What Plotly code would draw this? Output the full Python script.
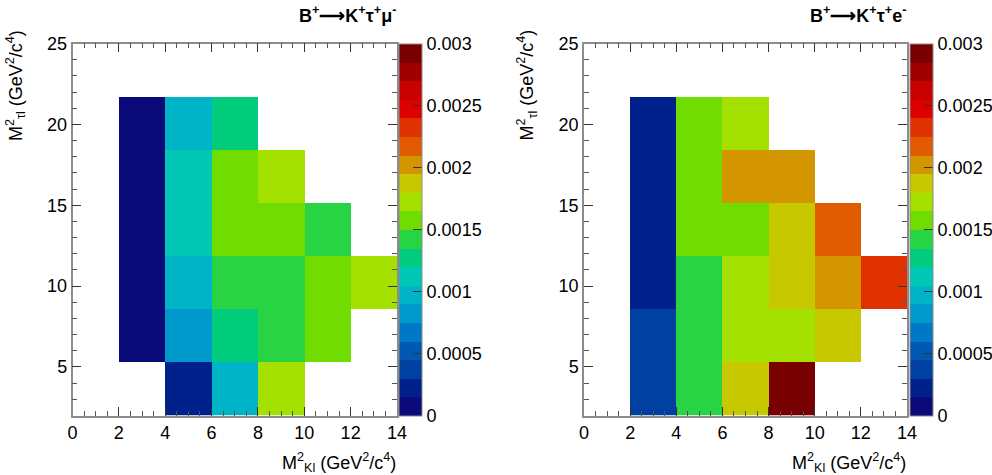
import plotly.graph_objects as go

W, H = 992, 475

# ---- data ----
x_edges = [0, 2, 4, 6, 8, 10, 12, 14]
y_edges = [2.0, 5.286, 8.571, 11.857, 15.143, 18.429, 21.714, 25.0]

# rows: y bins bottom->top, cols: x bins left->right
z_mu = [
    [None, None, 0.00022, 0.00097, 0.00172, None, None],
    [None, 0.00008, 0.00082, 0.00127, 0.00142, 0.00157, None],
    [None, 0.00008, 0.00097, 0.00142, 0.00142, 0.00157, 0.00172],
    [None, 0.00008, 0.00112, 0.00157, 0.00157, 0.00142, None],
    [None, 0.00008, 0.00112, 0.00157, 0.00172, None, None],
    [None, 0.00008, 0.00097, 0.00127, None, None, None],
    [None, None, None, None, None, None, None],
]
z_e = [
    [None, 0.00038, 0.00142, 0.00187, 0.00292, None, None],
    [None, 0.00038, 0.00142, 0.00172, 0.00172, 0.00187, None],
    [None, 0.00022, 0.00142, 0.00172, 0.00187, 0.00202, 0.00232],
    [None, 0.00022, 0.00157, 0.00157, 0.00187, 0.00217, None],
    [None, 0.00022, 0.00157, 0.00202, 0.00202, None, None],
    [None, 0.00022, 0.00157, 0.00172, None, None, None],
    [None, None, None, None, None, None, None],
]
cb_tickvals = [0, 0.0005, 0.001, 0.0015, 0.002, 0.0025, 0.003]
cb_ticktext = ["0", "0.0005", "0.001", "0.0015", "0.002", "0.0025", "0.003"]
x_ticks = [0, 2, 4, 6, 8, 10, 12, 14]
y_ticks = [5, 10, 15, 20, 25]

palette = ["#0a0a78", "#00208c", "#0040a0", "#0058b0", "#0078c8", "#0099cc",
           "#00b4c8", "#00c8b4", "#00cc7c", "#28d444", "#70dc00", "#a4e000",
           "#c8c800", "#d49600", "#e05a00", "#e03200", "#dc0000", "#c80000",
           "#a00000", "#780000"]
n = len(palette)
cscale = []
for i, c in enumerate(palette):
    cscale.append([i / n, c])
    cscale.append([(i + 1) / n, c])

FONT = "Liberation Sans, Arial, sans-serif"
FS = 18

def px_x(p):
    return p / W

def px_y(p):
    return 1 - p / H

top, bot = 43.5, 415.5
plots = [
    dict(z=z_mu, x0=72.5, x1=397, cbx=399,
         title="<b>B<sup>+</sup>⟶K<sup>+</sup>τ<sup>+</sup>μ<sup>-</sup></b>"),
    dict(z=z_e, x0=584, x1=907, cbx=910,
         title="<b>B<sup>+</sup>⟶K<sup>+</sup>τ<sup>+</sup>e<sup>-</sup></b>"),
]

fig = go.Figure()
annotations = []
for k, p in enumerate(plots):
    xa = "x" if k == 0 else "x2"
    ya = "y" if k == 0 else "y2"
    fig.add_trace(go.Heatmap(
        z=p["z"], x=x_edges, y=y_edges, xaxis=xa, yaxis=ya,
        colorscale=cscale, zmin=0, zmax=0.003, zsmooth=False,
        hoverongaps=False,
        colorbar=dict(
            x=px_x(p["cbx"]), xanchor="left", xref="paper",
            y=px_y((top + bot) / 2), yanchor="middle",
            len=bot - top, lenmode="pixels",
            thickness=23, thicknessmode="pixels",
            outlinecolor="#8c8c8c", outlinewidth=1,
            tickmode="array", tickvals=cb_tickvals, ticktext=cb_ticktext,
            ticks="inside", ticklen=9, tickcolor="#333333",
            tickfont=dict(family=FONT, size=FS, color="black"),
            xpad=0, ypad=0,
        ),
    ))
    axstyle = dict(
        showgrid=False, zeroline=False, showline=True, linecolor="#8c8c8c",
        linewidth=1.5, mirror="ticks", ticks="inside", ticklen=9,
        tickcolor="#333333", tickwidth=1, automargin=False,
        tickfont=dict(family=FONT, size=FS, color="black"),
    )
    xname = "xaxis" if k == 0 else "xaxis2"
    yname = "yaxis" if k == 0 else "yaxis2"
    fig.update_layout(**{
        xname: dict(axstyle, domain=[px_x(p["x0"]), px_x(p["x1"])], range=[0, 14],
                    anchor=ya, tickmode="array", tickvals=x_ticks,
                    minor=dict(ticks="inside", ticklen=5, dtick=0.5, tickcolor="#555555")),
        yname: dict(axstyle, domain=[px_y(bot), px_y(top)], range=[2, 25],
                    anchor=xa, tickmode="array", tickvals=y_ticks,
                    minor=dict(ticks="inside", ticklen=5, dtick=1, tick0=0, tickcolor="#555555")),
    })
    annotations.append(dict(
        text=p["title"], x=px_x(p["x1"] + 1), y=px_y(14), xref="paper", yref="paper",
        xanchor="right", yanchor="middle", showarrow=False,
        font=dict(family=FONT, size=FS, color="black")))
    annotations.append(dict(
        text="M<sup>2</sup><sub>Kl</sub> (GeV<sup>2</sup>/c<sup>4</sup>)",
        x=px_x(p["x1"] + 1), y=px_y(462), xref="paper", yref="paper",
        xanchor="right", yanchor="middle", showarrow=False,
        font=dict(family=FONT, size=FS, color="black")))
    annotations.append(dict(
        text="M<sup>2</sup><sub>τl</sub> (GeV<sup>2</sup>/c<sup>4</sup>)",
        x=px_x(p["x0"] - 57), y=px_y(28), xref="paper", yref="paper",
        xanchor="center", yanchor="top", textangle=-90, showarrow=False,
        font=dict(family=FONT, size=FS, color="black")))

fig.update_layout(
    width=W, height=H, margin=dict(l=0, r=0, t=0, b=0, autoexpand=False),
    paper_bgcolor="white", plot_bgcolor="white",
    annotations=annotations, showlegend=False,
)
fig.write_html("out.html")
